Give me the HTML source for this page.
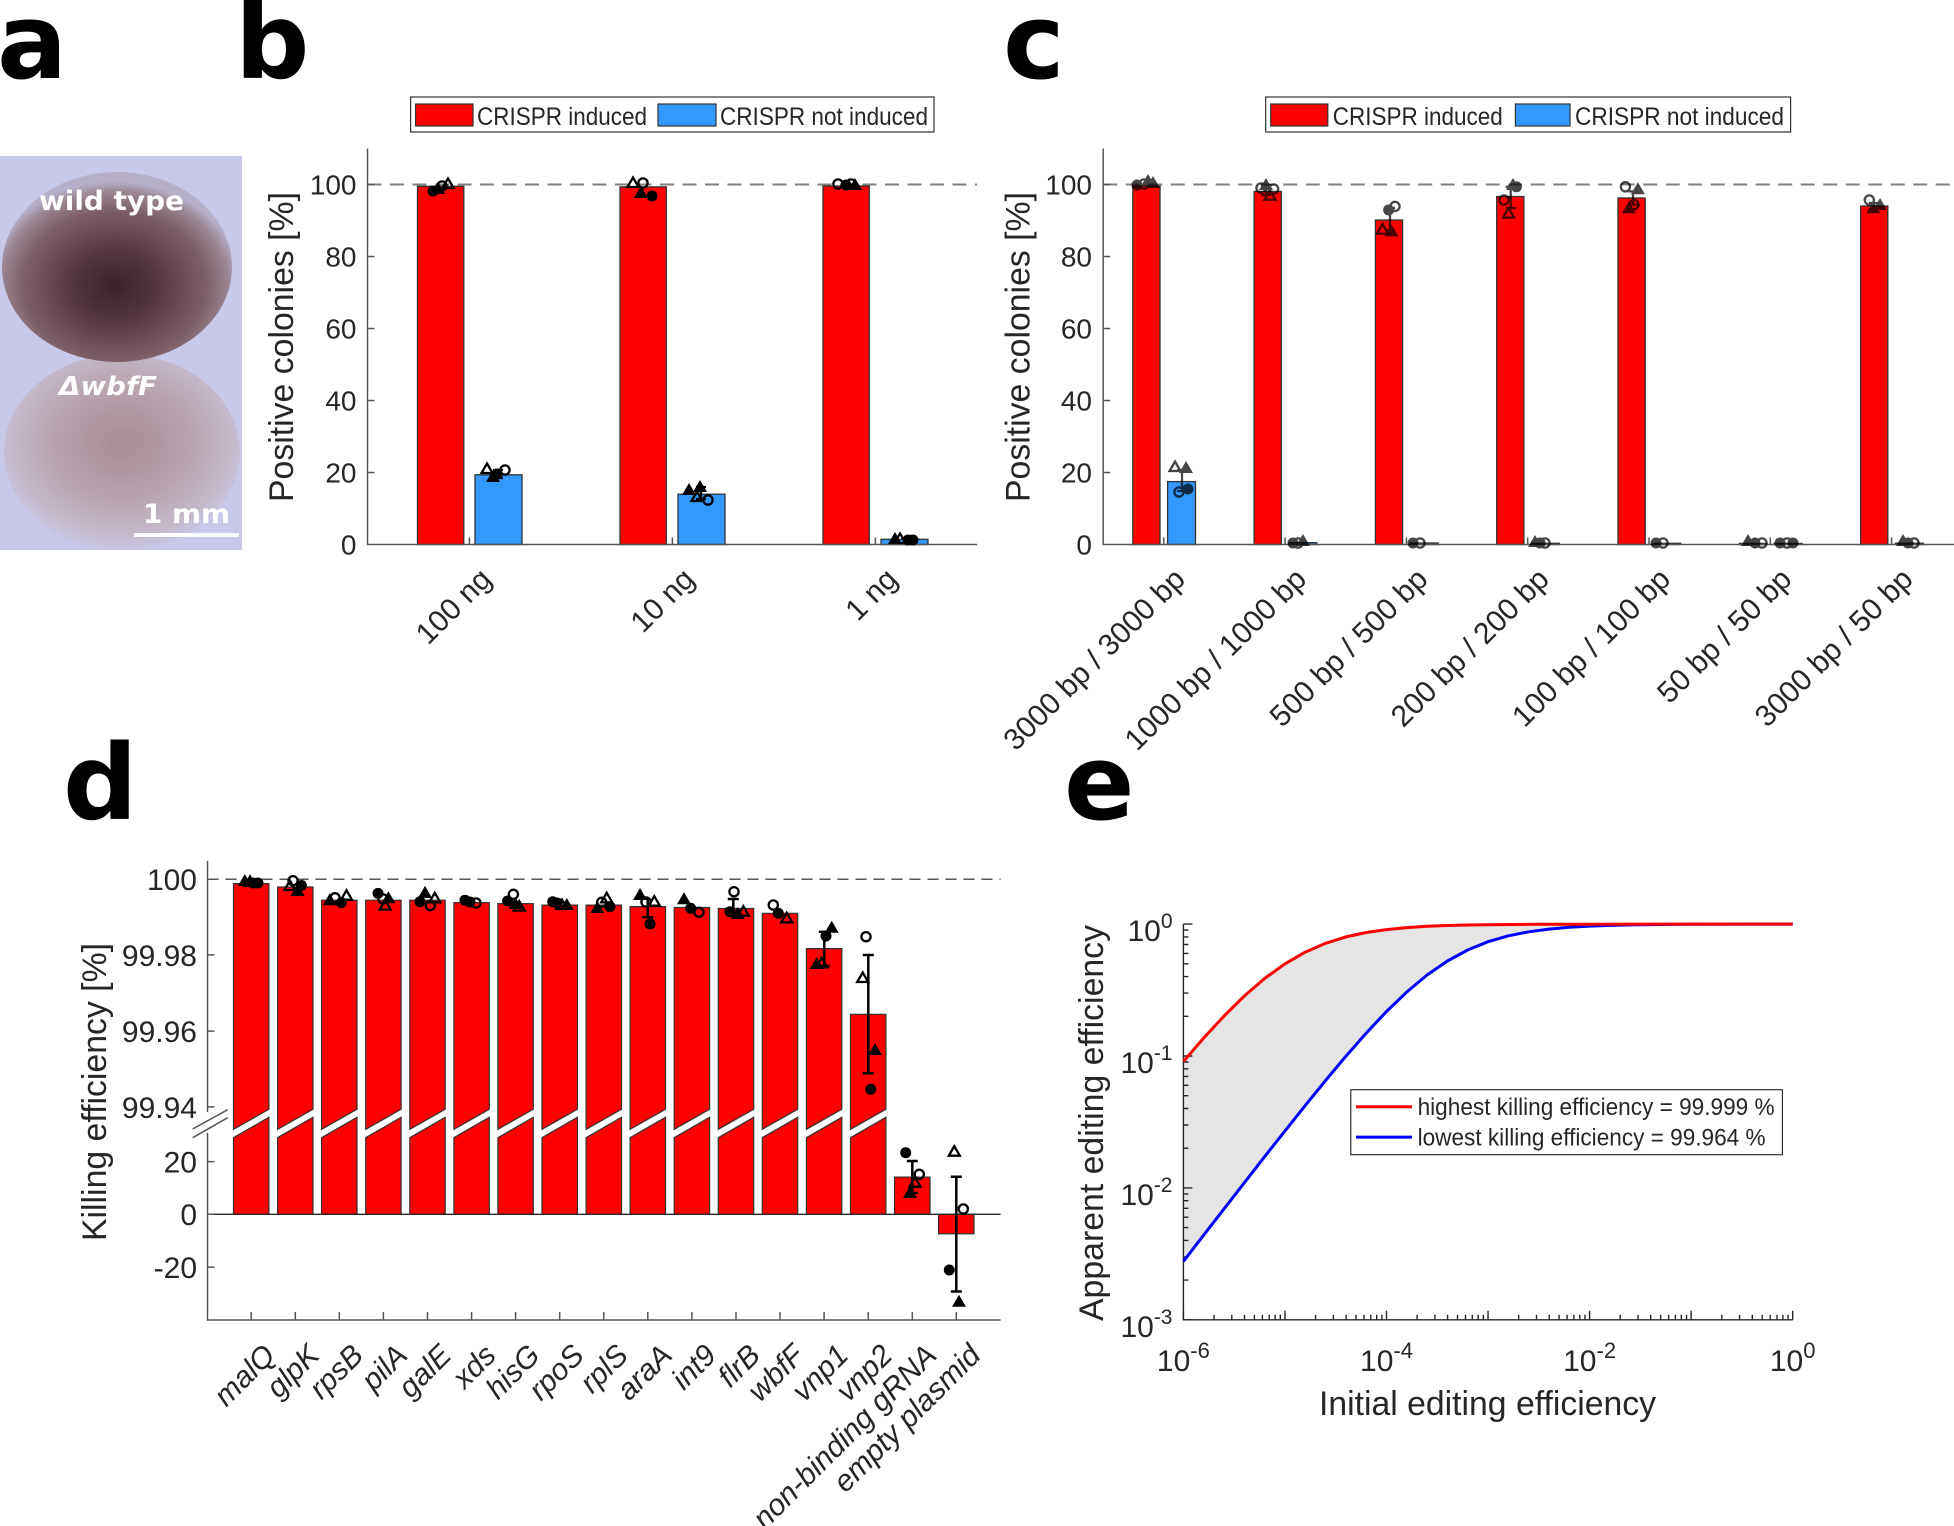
<!DOCTYPE html>
<html><head><meta charset="utf-8"><style>
html,body{margin:0;padding:0;background:#fff;}
svg{display:block;}
text{font-family:"Liberation Sans",Arial,sans-serif;fill:#262626;}
.pl{font-family:"DejaVu Sans","Liberation Sans",sans-serif;font-weight:bold;fill:#000;font-size:104px;}
.ph{font-family:"DejaVu Sans","Liberation Sans",sans-serif;font-weight:bold;fill:#fff;}
</style></head><body>
<svg width="1954" height="1526" viewBox="0 0 1954 1526" xmlns="http://www.w3.org/2000/svg">
<defs>
<circle id="fc" r="5.5" fill="#000"/>
<circle id="oc" r="4.6" fill="none" stroke="#000" stroke-width="2.3"/>
<polygon id="ft" points="0,-7 7,5 -7,5" fill="#000"/>
<polygon id="ot" points="0,-5.5 5.5,4 -5.5,4" fill="none" stroke="#000" stroke-width="2.3" stroke-linejoin="miter"/>
<radialGradient id="gtop" cx="0.49" cy="0.6" r="0.55">
 <stop offset="0" stop-color="#3a2028"/>
 <stop offset="0.35" stop-color="#553840"/>
 <stop offset="0.72" stop-color="#7c5f66"/>
 <stop offset="0.9" stop-color="#9a8692"/>
 <stop offset="1" stop-color="#b6afc8"/>
</radialGradient>
<radialGradient id="gbot" cx="0.5" cy="0.45" r="0.55">
 <stop offset="0" stop-color="#a88b95"/>
 <stop offset="0.55" stop-color="#b8a5b0"/>
 <stop offset="0.85" stop-color="#c4b8c9"/>
 <stop offset="1" stop-color="#c7c6e2"/>
</radialGradient>
</defs>

<!-- Panel labels -->
<text class="pl" x="-3" y="78">a</text>
<text class="pl" x="235" y="78">b</text>
<text class="pl" x="1003" y="78">c</text>
<text class="pl" x="63" y="819">d</text>
<text class="pl" x="1064" y="819">e</text>

<!-- Panel a photo -->
<rect x="0" y="156" width="242" height="394" fill="#c8c9e9"/>
<ellipse cx="122" cy="452" rx="118" ry="98" fill="url(#gbot)"/>
<ellipse cx="117" cy="267" rx="115" ry="95" fill="url(#gtop)"/>
<text class="ph" x="39" y="210" font-size="27" textLength="145" lengthAdjust="spacingAndGlyphs">wild type</text>
<text class="ph" x="59" y="395" font-size="26" font-style="italic" textLength="98" lengthAdjust="spacingAndGlyphs">ΔwbfF</text>
<text class="ph" x="143" y="523" font-size="27" textLength="87" lengthAdjust="spacingAndGlyphs">1 mm</text>
<rect x="134" y="533" width="105" height="4" fill="#fff"/>

<!-- ================= Panel b ================= -->
<line x1="367.5" y1="184.5" x2="977" y2="184.5" stroke="#808080" stroke-width="2" stroke-dasharray="14 8.5"/>
<g stroke="#333" stroke-width="1.3">
<rect x="417.5" y="186.3" width="46.3" height="358.2" fill="#ff0000"/>
<rect x="475" y="474.8" width="47" height="69.7" fill="#3399ff"/>
<rect x="620" y="186.9" width="46.3" height="357.6" fill="#ff0000"/>
<rect x="678" y="494.2" width="47" height="50.3" fill="#3399ff"/>
<rect x="823" y="186" width="46.3" height="358.5" fill="#ff0000"/>
<rect x="881" y="539.3" width="47" height="5.2" fill="#3399ff"/>
</g>
<g fill="none" stroke="#555" stroke-width="1.5">
<path d="M367.5,148.5 V544.5 H977"/>
<path d="M367.5,472.5h7M367.5,400.5h7M367.5,328.5h7M367.5,256.5h7M367.5,184.5h7M469.4,544.5v-7M672.4,544.5v-7M875.4,544.5v-7"/>
</g>
<g stroke="#000" stroke-width="2.3" fill="none">
<path d="M498,470v8M493,470h10M493,478h10M701,487v12M696,487h10M696,499h10"/>
</g>
<g>
<use href="#fc" x="433" y="191"/><use href="#ft" x="438" y="189"/><use href="#oc" x="442" y="186"/><use href="#ot" x="448" y="184"/>
<use href="#ot" x="487" y="469"/><use href="#ft" x="493" y="477"/><use href="#oc" x="505" y="470"/><use href="#fc" x="497" y="474"/>
<use href="#ot" x="633" y="183"/><use href="#oc" x="643" y="183"/><use href="#ft" x="641" y="193"/><use href="#fc" x="652" y="196"/>
<use href="#ft" x="689" y="490"/><use href="#ft" x="700" y="487"/><use href="#ot" x="697" y="497"/><use href="#oc" x="708" y="500"/>
<use href="#oc" x="838" y="184"/><use href="#fc" x="846" y="185"/><use href="#ft" x="855" y="185"/><use href="#oc" x="851" y="184"/>
<use href="#ft" x="895" y="539"/><use href="#ot" x="900" y="539"/><use href="#fc" x="908" y="540"/><use href="#fc" x="913" y="540"/>
</g>
<g font-size="28" text-anchor="end">
<text x="356.5" y="554.5">0</text>
<text x="356.5" y="482.5">20</text>
<text x="356.5" y="410.5">40</text>
<text x="356.5" y="338.5">60</text>
<text x="356.5" y="266.5">80</text>
<text x="356.5" y="194.5">100</text>
</g>
<text transform="translate(293,347) rotate(-90)" font-size="34" text-anchor="middle" textLength="310" lengthAdjust="spacingAndGlyphs">Positive colonies [%]</text>
<g font-size="30" text-anchor="end">
<text transform="translate(493,581) rotate(-45)">100 ng</text>
<text transform="translate(696,581) rotate(-45)">10 ng</text>
<text transform="translate(899,581) rotate(-45)">1 ng</text>
</g>
<rect x="410.6" y="97" width="523.4" height="35" fill="#fff" stroke="#333" stroke-width="1.2"/>
<rect x="415.6" y="104" width="57.4" height="22" fill="#ff0000" stroke="#333" stroke-width="1.2"/>
<rect x="658" y="104" width="58" height="22" fill="#3399ff" stroke="#333" stroke-width="1.2"/>
<text x="477" y="125" font-size="25" textLength="170" lengthAdjust="spacingAndGlyphs" fill="#000">CRISPR induced</text>
<text x="720" y="125" font-size="25" textLength="208" lengthAdjust="spacingAndGlyphs" fill="#000">CRISPR not induced</text>

<!-- ================= Panel c ================= -->
<line x1="1103.2" y1="184.5" x2="1954" y2="184.5" stroke="#808080" stroke-width="2" stroke-dasharray="14 8.5"/>
<g stroke="#333" stroke-width="1.3">
<rect x="1132.8" y="186" width="27.2" height="358.5" fill="#ff0000"/>
<rect x="1167.6" y="481.6" width="27.9" height="62.9" fill="#3399ff"/>
<rect x="1254.1" y="191.4" width="27.2" height="353.1" fill="#ff0000"/>
<rect x="1288.9" y="542.7" width="27.9" height="1.8" fill="#3399ff"/>
<rect x="1375.4" y="220" width="27.2" height="324.5" fill="#ff0000"/>
<rect x="1410.2" y="543" width="27.9" height="1.5" fill="#3399ff"/>
<rect x="1496.7" y="196.5" width="27.2" height="348" fill="#ff0000"/>
<rect x="1531.5" y="543.3" width="27.9" height="1.2" fill="#3399ff"/>
<rect x="1618" y="198" width="27.2" height="346.5" fill="#ff0000"/>
<rect x="1652.8" y="543.3" width="27.9" height="1.2" fill="#3399ff"/>
<rect x="1739.3" y="543.4" width="27.2" height="1.1" fill="#ff0000"/>
<rect x="1774.1" y="543.4" width="27.9" height="1.1" fill="#3399ff"/>
<rect x="1860.6" y="206" width="27.2" height="338.5" fill="#ff0000"/>
<rect x="1895.4" y="543.2" width="27.9" height="1.3" fill="#3399ff"/>
</g>
<g fill="none" stroke="#555" stroke-width="1.5">
<path d="M1103.2,148.5 V544.5 H1954"/>
<path d="M1103.2,472.5h7M1103.2,400.5h7M1103.2,328.5h7M1103.2,256.5h7M1103.2,184.5h7M1163.8,544.5v-7M1285.1,544.5v-7M1406.4,544.5v-7M1527.7,544.5v-7M1649,544.5v-7M1770.3,544.5v-7M1891.6,544.5v-7"/>
</g>
<g opacity="0.72">
<g stroke="#000" stroke-width="2.3" fill="none">
<path d="M1182,470v21M1177,470h10M1177,491h10M1266,185v10M1261,185h10M1261,195h10M1390,208v22M1385,208h10M1385,230h10M1510.7,186.8v21.4M1505.7,186.8h10M1505.7,208.2h10M1633,191.4v13.2M1628,191.4h10M1628,204.6h10M1874,203v6M1869,203h10M1869,209h10"/>
</g>
<use href="#fc" x="1137" y="185"/><use href="#oc" x="1144" y="184"/><use href="#ft" x="1148" y="181"/><use href="#ft" x="1153" y="183"/>
<use href="#ot" x="1175" y="467"/><use href="#ft" x="1186" y="468"/><use href="#oc" x="1179" y="492"/><use href="#fc" x="1188" y="489"/>
<use href="#oc" x="1261" y="188"/><use href="#ft" x="1266" y="185"/><use href="#oc" x="1273.6" y="189"/><use href="#ot" x="1270" y="195.7"/>
<use href="#fc" x="1293" y="543"/><use href="#oc" x="1298" y="543"/><use href="#ft" x="1303" y="541"/>
<use href="#oc" x="1395" y="206.4"/><use href="#fc" x="1388.6" y="210"/><use href="#ot" x="1382.5" y="229.6"/><use href="#ft" x="1391.4" y="231.4"/>
<use href="#fc" x="1413" y="543"/><use href="#oc" x="1420" y="543"/>
<use href="#fc" x="1516.4" y="186.8"/><use href="#oc" x="1504" y="200"/><use href="#ot" x="1508.6" y="213.6"/><use href="#ft" x="1513" y="185"/>
<use href="#ft" x="1535" y="542"/><use href="#fc" x="1540" y="543"/><use href="#oc" x="1545" y="543"/>
<use href="#oc" x="1625.4" y="186.8"/><use href="#ft" x="1637.9" y="189.3"/><use href="#oc" x="1634" y="204.6"/><use href="#ft" x="1629" y="208.2"/>
<use href="#fc" x="1656" y="543"/><use href="#oc" x="1663" y="543"/>
<use href="#ft" x="1748" y="541"/><use href="#fc" x="1755" y="543"/><use href="#oc" x="1762" y="543"/>
<use href="#fc" x="1780" y="543"/><use href="#oc" x="1787" y="543"/><use href="#fc" x="1793" y="543"/>
<use href="#oc" x="1869.3" y="200"/><use href="#ft" x="1873.3" y="208.3"/><use href="#ft" x="1880" y="205"/>
<use href="#ft" x="1903" y="541"/><use href="#fc" x="1908" y="543"/><use href="#oc" x="1914" y="543"/>
</g>
<g font-size="28" text-anchor="end">
<text x="1092" y="554.5">0</text>
<text x="1092" y="482.5">20</text>
<text x="1092" y="410.5">40</text>
<text x="1092" y="338.5">60</text>
<text x="1092" y="266.5">80</text>
<text x="1092" y="194.5">100</text>
</g>
<text transform="translate(1029.5,347) rotate(-90)" font-size="34" text-anchor="middle" textLength="310" lengthAdjust="spacingAndGlyphs">Positive colonies [%]</text>
<g font-size="30" text-anchor="end">
<text transform="translate(1186.8,581) rotate(-45)">3000 bp / 3000 bp</text>
<text transform="translate(1308.1,581) rotate(-45)">1000 bp / 1000 bp</text>
<text transform="translate(1429.4,581) rotate(-45)">500 bp / 500 bp</text>
<text transform="translate(1550.7,581) rotate(-45)">200 bp / 200 bp</text>
<text transform="translate(1672,581) rotate(-45)">100 bp / 100 bp</text>
<text transform="translate(1793.3,581) rotate(-45)">50 bp / 50 bp</text>
<text transform="translate(1914.6,581) rotate(-45)">3000 bp / 50 bp</text>
</g>
<rect x="1265.7" y="97" width="524.9" height="35" fill="#fff" stroke="#333" stroke-width="1.2"/>
<rect x="1270.7" y="104" width="57.1" height="22" fill="#ff0000" stroke="#333" stroke-width="1.2"/>
<rect x="1515.4" y="104" width="54.6" height="22" fill="#3399ff" stroke="#333" stroke-width="1.2"/>
<text x="1332.8" y="125" font-size="25" textLength="170" lengthAdjust="spacingAndGlyphs" fill="#000">CRISPR induced</text>
<text x="1575" y="125" font-size="25" textLength="209" lengthAdjust="spacingAndGlyphs" fill="#000">CRISPR not induced</text>

<!-- ================= Panel d ================= -->
<line x1="207.5" y1="879.2" x2="1000.6" y2="879.2" stroke="#555" stroke-width="1.5" stroke-dasharray="11 7"/>
<g fill="#ff0000" stroke="#333" stroke-width="1.2">
<polygon points="233.5,883.6 268.9,883.6 268.9,1109.3 233.5,1129.3"/><polygon points="233.5,1137.7 268.9,1117.3 268.9,1214.3 233.5,1214.3"/>
<polygon points="277.6,887 313,887 313,1109.3 277.6,1129.3"/><polygon points="277.6,1137.7 313,1117.3 313,1214.3 277.6,1214.3"/>
<polygon points="321.6,900.2 357,900.2 357,1109.3 321.6,1129.3"/><polygon points="321.6,1137.7 357,1117.3 357,1214.3 321.6,1214.3"/>
<polygon points="365.7,900.2 401.1,900.2 401.1,1109.3 365.7,1129.3"/><polygon points="365.7,1137.7 401.1,1117.3 401.1,1214.3 365.7,1214.3"/>
<polygon points="409.8,900.2 445.2,900.2 445.2,1109.3 409.8,1129.3"/><polygon points="409.8,1137.7 445.2,1117.3 445.2,1214.3 409.8,1214.3"/>
<polygon points="453.9,902.6 489.3,902.6 489.3,1109.3 453.9,1129.3"/><polygon points="453.9,1137.7 489.3,1117.3 489.3,1214.3 453.9,1214.3"/>
<polygon points="497.9,903.6 533.3,903.6 533.3,1109.3 497.9,1129.3"/><polygon points="497.9,1137.7 533.3,1117.3 533.3,1214.3 497.9,1214.3"/>
<polygon points="542,905.1 577.4,905.1 577.4,1109.3 542,1129.3"/><polygon points="542,1137.7 577.4,1117.3 577.4,1214.3 542,1214.3"/>
<polygon points="586.1,905.1 621.5,905.1 621.5,1109.3 586.1,1129.3"/><polygon points="586.1,1137.7 621.5,1117.3 621.5,1214.3 586.1,1214.3"/>
<polygon points="630.1,906.6 665.5,906.6 665.5,1109.3 630.1,1129.3"/><polygon points="630.1,1137.7 665.5,1117.3 665.5,1214.3 630.1,1214.3"/>
<polygon points="674.2,907.5 709.6,907.5 709.6,1109.3 674.2,1129.3"/><polygon points="674.2,1137.7 709.6,1117.3 709.6,1214.3 674.2,1214.3"/>
<polygon points="718.3,908.5 753.7,908.5 753.7,1109.3 718.3,1129.3"/><polygon points="718.3,1137.7 753.7,1117.3 753.7,1214.3 718.3,1214.3"/>
<polygon points="762.3,913.4 797.7,913.4 797.7,1109.3 762.3,1129.3"/><polygon points="762.3,1137.7 797.7,1117.3 797.7,1214.3 762.3,1214.3"/>
<polygon points="806.4,948.6 841.8,948.6 841.8,1109.3 806.4,1129.3"/><polygon points="806.4,1137.7 841.8,1117.3 841.8,1214.3 806.4,1214.3"/>
<polygon points="850.5,1014.3 885.9,1014.3 885.9,1109.3 850.5,1129.3"/><polygon points="850.5,1137.7 885.9,1117.3 885.9,1214.3 850.5,1214.3"/>
<rect x="894.6" y="1177.1" width="35.4" height="37.2"/>
<rect x="938.6" y="1214.3" width="35.4" height="19.5"/>
</g>
<line x1="207.5" y1="1214.3" x2="1000.6" y2="1214.3" stroke="#262626" stroke-width="1.3"/>
<g fill="none" stroke="#555" stroke-width="1.5">
<path d="M207.5,861 V1112 M207.5,1133 V1320 H1000.6"/>
<path d="M192.7,1129 L227.7,1109.7 M192.7,1137.7 L227.7,1117.7"/>
<path d="M207.5,879.2h7M207.5,954.9h7M207.5,1031.1h7M207.5,1106.9h7M207.5,1161.6h7M207.5,1214.3h7M207.5,1267.1h7"/>
<path d="M251.2,1320v-8M295.3,1320v-8M339.3,1320v-8M383.4,1320v-8M427.5,1320v-8M471.6,1320v-8M515.6,1320v-8M559.7,1320v-8M603.8,1320v-8M647.8,1320v-8M691.9,1320v-8M736,1320v-8M780,1320v-8M824.1,1320v-8M868.2,1320v-8M912.3,1320v-8M956.3,1320v-8"/>
</g>
<g stroke="#000" stroke-width="2.5" fill="none">
<path d="M824.3,931.7V966M818.8,931.7h11M818.8,966h11"/>
<path d="M868.3,955V1073.3M862.8,955h11M862.8,1073.3h11"/>
<path d="M912.3,1161V1193M906.8,1161h11M906.8,1193h11"/>
<path d="M956.3,1176.7V1291.5M950.8,1176.7h11M950.8,1291.5h11"/>
<path d="M647.7,898V917.3M642.2,917.3h11"/>
<path d="M733.3,899V913M727.8,899h11"/>
</g>
<g>
<use href="#ft" x="244.8" y="881"/><use href="#ot" x="250" y="882"/><use href="#fc" x="253" y="883"/><use href="#fc" x="258" y="883"/>
<use href="#oc" x="293" y="880.7"/><use href="#fc" x="301.4" y="885.5"/><use href="#ot" x="289.9" y="886"/><use href="#ft" x="297.6" y="891"/>
<use href="#oc" x="335" y="897.8"/><use href="#fc" x="341.4" y="902.6"/><use href="#ft" x="329.8" y="900.2"/><use href="#ot" x="346.5" y="895.8"/>
<use href="#fc" x="378" y="893.4"/><use href="#ot" x="385.2" y="905.6"/><use href="#ft" x="388.4" y="898.3"/><use href="#oc" x="383" y="899"/>
<use href="#ft" x="425" y="892.9"/><use href="#fc" x="420" y="901.7"/><use href="#oc" x="430.3" y="905.6"/><use href="#ot" x="434.8" y="898.3"/>
<use href="#fc" x="465" y="900.2"/><use href="#fc" x="470" y="902"/><use href="#oc" x="476" y="903"/>
<use href="#oc" x="513.4" y="894.3"/><use href="#fc" x="507.6" y="901"/><use href="#ot" x="519.2" y="906.6"/><use href="#ft" x="515.3" y="904"/>
<use href="#fc" x="552.7" y="901.7"/><use href="#fc" x="557.2" y="903"/><use href="#ft" x="566.8" y="905"/><use href="#ot" x="562" y="905"/>
<use href="#oc" x="601.7" y="902.3"/><use href="#fc" x="610" y="906.7"/><use href="#ft" x="597.3" y="908"/><use href="#ot" x="606.7" y="898.3"/>
<use href="#ft" x="640" y="895"/><use href="#ot" x="654.3" y="901.7"/><use href="#fc" x="650" y="924"/><use href="#oc" x="646" y="902"/>
<use href="#ft" x="684" y="899.3"/><use href="#fc" x="690.7" y="908.3"/><use href="#oc" x="699" y="912.3"/>
<use href="#oc" x="734" y="891.7"/><use href="#fc" x="730" y="911.7"/><use href="#ft" x="737.7" y="914"/><use href="#ot" x="743.3" y="911.7"/>
<use href="#oc" x="773.3" y="905"/><use href="#fc" x="778.3" y="913.3"/><use href="#ot" x="786.7" y="918.3"/>
<use href="#ft" x="831.7" y="927.7"/><use href="#fc" x="826" y="936"/><use href="#ft" x="816.7" y="964"/><use href="#ot" x="821.7" y="963.3"/>
<use href="#oc" x="866" y="936.7"/><use href="#ot" x="862.7" y="978"/><use href="#ft" x="875" y="1050"/><use href="#fc" x="870.7" y="1089.3"/>
<use href="#fc" x="905.7" y="1152.7"/><use href="#oc" x="919.3" y="1174.3"/><use href="#ot" x="915" y="1182.7"/><use href="#ft" x="910" y="1193"/>
<use href="#ot" x="954.3" y="1151.7"/><use href="#oc" x="963.3" y="1209"/><use href="#fc" x="949.3" y="1270"/><use href="#ft" x="959" y="1301.7"/>
</g>
<g font-size="30" text-anchor="end">
<text x="197" y="890">100</text>
<text x="197" y="966">99.98</text>
<text x="197" y="1042">99.96</text>
<text x="197" y="1118">99.94</text>
<text x="197" y="1172.5">20</text>
<text x="197" y="1225">0</text>
<text x="197" y="1278">-20</text>
</g>
<text transform="translate(106,1092) rotate(-90)" font-size="34" text-anchor="middle" textLength="298" lengthAdjust="spacingAndGlyphs">Killing efficiency [%]</text>
<g font-size="30" text-anchor="end" font-style="italic">
<text transform="translate(277,1357) rotate(-45)">malQ</text>
<text transform="translate(321,1357) rotate(-45)">glpK</text>
<text transform="translate(365,1357) rotate(-45)">rpsB</text>
<text transform="translate(409,1357) rotate(-45)">pilA</text>
<text transform="translate(453,1357) rotate(-45)">galE</text>
<text transform="translate(497.6,1357) rotate(-45)">xds</text>
<text transform="translate(541.6,1357) rotate(-45)">hisG</text>
<text transform="translate(585.7,1357) rotate(-45)">rpoS</text>
<text transform="translate(629.8,1357) rotate(-45)">rplS</text>
<text transform="translate(673.8,1357) rotate(-45)">araA</text>
<text transform="translate(717.9,1357) rotate(-45)">int9</text>
<text transform="translate(762,1357) rotate(-45)">flrB</text>
<text transform="translate(806,1357) rotate(-45)">wbfF</text>
<text transform="translate(850.1,1357) rotate(-45)">vnp1</text>
<text transform="translate(894.2,1357) rotate(-45)">vnp2</text>
<text transform="translate(938.3,1357) rotate(-45)">non-binding gRNA</text>
<text transform="translate(982.3,1357) rotate(-45)">empty plasmid</text>
</g>

<!-- ================= Panel e ================= -->
<polygon fill="#e5e5e5" points="1183.4,1061.5 1203.7,1038.0 1224.0,1016.1 1244.3,996.0 1264.6,978.5 1285.0,963.8 1305.3,952.1 1325.6,943.3 1345.9,936.9 1366.2,932.5 1386.5,929.6 1406.8,927.6 1427.1,926.3 1447.4,925.5 1467.7,925.0 1488.1,924.7 1538.8,924.3 1589.6,924.2 1691.1,924.1 1792.7,924.1 1741.9,924.1 1691.1,924.3 1670.8,924.4 1650.5,924.6 1630.2,924.9 1609.9,925.4 1589.6,926.1 1569.3,927.3 1549.0,929.1 1528.7,931.8 1508.4,935.8 1488.1,941.7 1467.7,950.0 1447.4,961.0 1427.1,975.0 1406.8,992.0 1386.5,1011.5 1366.2,1033.1 1345.9,1056.2 1325.6,1080.5 1305.3,1105.4 1285.0,1130.9 1264.6,1156.7 1244.3,1182.8 1224.0,1208.9 1203.7,1235.1 1183.4,1261.4"/>
<g fill="none" stroke="#262626" stroke-width="1.4">
<path d="M1183.4,924.1 V1319.8 H1792.7"/>
<path d="M1183.4,924.1h9M1183.4,1056h9M1183.4,1187.9h9M1183.4,1319.8h9"/>
<path d="M1183.4,1280.1h5M1183.4,1256.9h5M1183.4,1240.4h5M1183.4,1227.6h5M1183.4,1217.2h5M1183.4,1208.3h5M1183.4,1200.7h5M1183.4,1193.9h5M1183.4,1148.2h5M1183.4,1125h5M1183.4,1108.5h5M1183.4,1095.7h5M1183.4,1085.3h5M1183.4,1076.4h5M1183.4,1068.8h5M1183.4,1062h5M1183.4,1016.3h5M1183.4,993.1h5M1183.4,976.6h5M1183.4,963.8h5M1183.4,953.4h5M1183.4,944.5h5M1183.4,936.9h5M1183.4,930.1h5"/>
<path d="M1183.4,1319.8v-9M1284.95,1319.8v-9M1386.5,1319.8v-9M1488.05,1319.8v-9M1589.6,1319.8v-9M1691.15,1319.8v-9M1792.7,1319.8v-9"/>
<path d="M1214,1319.8v-5M1231.8,1319.8v-5M1244.5,1319.8v-5M1254.4,1319.8v-5M1262.4,1319.8v-5M1269.2,1319.8v-5M1275.1,1319.8v-5M1280.3,1319.8v-5M1315.6,1319.8v-5M1333.4,1319.8v-5M1346.1,1319.8v-5M1356,1319.8v-5M1364,1319.8v-5M1370.8,1319.8v-5M1376.7,1319.8v-5M1381.9,1319.8v-5M1417.1,1319.8v-5M1434.9,1319.8v-5M1447.6,1319.8v-5M1457.5,1319.8v-5M1465.5,1319.8v-5M1472.3,1319.8v-5M1478.2,1319.8v-5M1483.4,1319.8v-5M1518.7,1319.8v-5M1536.5,1319.8v-5M1549.2,1319.8v-5M1559.1,1319.8v-5M1567.1,1319.8v-5M1573.9,1319.8v-5M1579.8,1319.8v-5M1585,1319.8v-5M1620.2,1319.8v-5M1638,1319.8v-5M1650.7,1319.8v-5M1660.6,1319.8v-5M1668.6,1319.8v-5M1675.4,1319.8v-5M1681.3,1319.8v-5M1686.5,1319.8v-5M1721.8,1319.8v-5M1739.6,1319.8v-5M1752.3,1319.8v-5M1762.2,1319.8v-5M1770.2,1319.8v-5M1777,1319.8v-5M1782.9,1319.8v-5M1788.1,1319.8v-5"/>
</g>
<polyline fill="none" stroke="#0000ff" stroke-width="3" stroke-linejoin="round" points="1183.4,1261.4 1203.7,1235.1 1224.0,1208.9 1244.3,1182.8 1264.6,1156.7 1285.0,1130.9 1305.3,1105.4 1325.6,1080.5 1345.9,1056.2 1366.2,1033.1 1386.5,1011.5 1406.8,992.0 1427.1,975.0 1447.4,961.0 1467.7,950.0 1488.1,941.7 1508.4,935.8 1528.7,931.8 1549.0,929.1 1569.3,927.3 1589.6,926.1 1609.9,925.4 1630.2,924.9 1650.5,924.6 1670.8,924.4 1691.1,924.3 1741.9,924.1 1792.7,924.1"/>
<polyline fill="none" stroke="#ff0000" stroke-width="3" stroke-linejoin="round" points="1183.4,1061.5 1203.7,1038.0 1224.0,1016.1 1244.3,996.0 1264.6,978.5 1285.0,963.8 1305.3,952.1 1325.6,943.3 1345.9,936.9 1366.2,932.5 1386.5,929.6 1406.8,927.6 1427.1,926.3 1447.4,925.5 1467.7,925.0 1488.1,924.7 1538.8,924.3 1589.6,924.2 1691.1,924.1 1792.7,924.1"/>
<g font-size="30" text-anchor="end">
<text x="1172.5" y="941">10<tspan dy="-13" font-size="21">0</tspan></text>
<text x="1172.5" y="1073">10<tspan dy="-13" font-size="21">-1</tspan></text>
<text x="1172.5" y="1205">10<tspan dy="-13" font-size="21">-2</tspan></text>
<text x="1172.5" y="1337">10<tspan dy="-13" font-size="21">-3</tspan></text>
</g>
<g font-size="30" text-anchor="middle">
<text x="1183.4" y="1371">10<tspan dy="-13" font-size="22">-6</tspan></text>
<text x="1386.5" y="1371">10<tspan dy="-13" font-size="22">-4</tspan></text>
<text x="1589.6" y="1371">10<tspan dy="-13" font-size="22">-2</tspan></text>
<text x="1792.7" y="1371">10<tspan dy="-13" font-size="22">0</tspan></text>
</g>
<text x="1487.5" y="1415" font-size="34" text-anchor="middle" textLength="337" lengthAdjust="spacingAndGlyphs">Initial editing efficiency</text>
<text transform="translate(1103,1123) rotate(-90)" font-size="34" text-anchor="middle" textLength="396" lengthAdjust="spacingAndGlyphs">Apparent editing efficiency</text>
<rect x="1350.8" y="1089.7" width="431.6" height="65" fill="#fff" stroke="#333" stroke-width="1.2"/>
<line x1="1356" y1="1106.8" x2="1412" y2="1106.8" stroke="#ff0000" stroke-width="3"/>
<line x1="1356" y1="1137.1" x2="1412" y2="1137.1" stroke="#0000ff" stroke-width="3"/>
<text x="1417.6" y="1115" font-size="24" fill="#000" textLength="357" lengthAdjust="spacingAndGlyphs">highest killing efficiency = 99.999 %</text>
<text x="1417.6" y="1145.5" font-size="24" fill="#000" textLength="348" lengthAdjust="spacingAndGlyphs">lowest killing efficiency = 99.964 %</text>
</svg>
</body></html>
